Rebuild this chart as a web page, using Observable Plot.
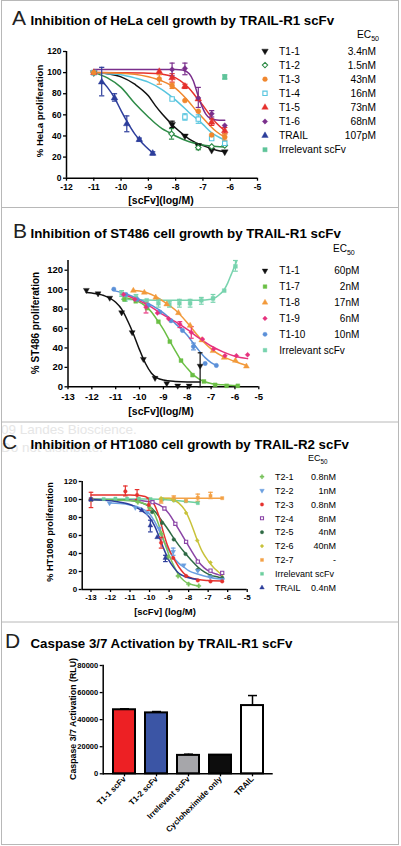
<!DOCTYPE html>
<html><head><meta charset="utf-8">
<script src="https://cdn.jsdelivr.net/npm/d3@7"></script>
<script src="https://cdn.jsdelivr.net/npm/@observablehq/plot@0.6"></script>
<style>
html,body{margin:0;padding:0;background:#fff;}
#root{position:relative;width:401px;height:846px;overflow:hidden;background:#fff;}
#root svg{position:absolute;left:0;}
</style></head><body><div id="root"></div>
<script>
// ================= DATA =================
// Panel A : HeLa, TRAIL-R1 scFv   ([x = log M, y = % proliferation])
const A_xTicks = [-12,-11,-10,-9,-8,-7,-6,-5];
const A_yTicks = [0,20,40,60,80,100,120];
const A_names = ["T1-1","T1-2","T1-3","T1-4","T1-5","T1-6","TRAIL","Irrelevant scFv"];
const A_ec50  = ["3.4nM","1.5nM","43nM","16nM","73nM","68nM","107pM",""];
const A_T1_1_pts = [[-11,100],[-8.13,51],[-7.66,40],[-7.17,31],[-6.68,26.5],[-6.2,25]];
const A_T1_1_fit = [[-11,100],[-10.5,99],[-10,96],[-9.5,89],[-9,78],[-8.75,69],[-8.5,61],[-8.25,54],[-8,47.5],[-7.75,42],[-7.5,37],[-7.25,33.5],[-7,31],[-6.75,28.5],[-6.5,26.5],[-6.2,25]];
const A_T1_1_err = [[-8.13,48,54]];
const A_T1_2_pts = [[-11,100],[-8.15,42],[-7.17,29],[-6.68,30],[-6.2,31]];
const A_T1_2_fit = [[-11,100],[-10.5,95],[-10,86],[-9.5,71],[-9,58],[-8.75,52],[-8.5,47],[-8.25,43.5],[-8,40],[-7.5,34.5],[-7,31.5],[-6.5,30],[-6.2,29.5]];
const A_T1_2_err = [[-8.15,37,47],[-7.17,27,31]];
const A_T1_3_pts = [[-11,100],[-8.6,94],[-8.13,87.5],[-7.66,73.5],[-7.17,63.5],[-6.68,41],[-6.2,39]];
const A_T1_3_fit = [[-11,100],[-10,99.5],[-9.5,98.5],[-9,96],[-8.5,92],[-8,85],[-7.75,79],[-7.5,72],[-7.25,64],[-7,57],[-6.75,50],[-6.5,44],[-6.2,39]];
const A_T1_3_err = [[-8.6,89,98],[-8.13,85,90],[-6.2,36,42]];
const A_T1_4_pts = [[-11,100],[-8.13,75],[-7.66,58],[-7.17,56],[-6.68,37.5],[-6.2,33]];
const A_T1_4_fit = [[-11,100],[-10.5,99],[-10,98],[-9.5,95],[-9,91],[-8.5,84],[-8,74],[-7.66,66],[-7.5,62],[-7.17,55],[-7,51],[-6.68,43],[-6.5,40],[-6.2,36]];
const A_T1_4_err = [[-7.66,55,61],[-7.17,52,60]];
const A_T1_5_pts = [[-11,100],[-8.6,101],[-8.13,95],[-7.66,87],[-7.17,75],[-6.68,53],[-6.2,45]];
const A_T1_5_fit = [[-11,100],[-9,99.5],[-8.5,98.5],[-8,95],[-7.66,89],[-7.5,85],[-7.25,77],[-7,69],[-6.75,60],[-6.5,52],[-6.2,45]];
const A_T1_5_err = [[-8.13,91,99],[-7.66,85,89],[-6.68,50,56],[-6.2,42,48]];
const A_T1_6_pts = [[-8.13,103],[-7.66,104],[-7.17,76],[-6.68,61],[-6.2,50]];
const A_T1_6_fit = [[-11,103],[-8,103],[-7.75,102.5],[-7.5,99],[-7.35,92],[-7.2,80],[-7.05,69],[-6.9,61],[-6.75,57],[-6.6,55.5],[-6.4,55],[-6.2,55]];
const A_T1_6_err = [[-8.13,97,109],[-7.66,98,109],[-7.17,67,86],[-6.68,58,64]];
const A_TRAIL_pts = [[-10.71,91],[-10.24,76],[-9.79,51.5],[-9.33,36.5],[-8.84,23.5]];
const A_TRAIL_fit = [[-10.71,92],[-10.5,86],[-10.24,76],[-10,64],[-9.79,54],[-9.5,42],[-9.33,36.5],[-9.1,30],[-8.84,24]];
const A_TRAIL_err = [[-10.71,78,105],[-10.24,73,80],[-9.79,44,59],[-9.33,35,38],[-8.84,22,25]];
const A_Irr_pts = [[-6.2,95.6]];
const A_Irr_err = [[-6.2,94,98]];

// Panel B : ST486, TRAIL-R1 scFv
const B_xTicks = [-13,-12,-11,-10,-9,-8,-7,-6,-5];
const B_yTicks = [0,20,40,60,80,100,120];
const B_names = ["T1-1","T1-7","T1-8","T1-9","T1-10","Irrelevant scFv"];
const B_ec50  = ["60pM","2nM","17nM","6nM","10nM",""];
const B_T1_1_pts = [[-12.23,99.5],[-11.74,96],[-11.25,91.5],[-10.75,76.5],[-10.31,56],[-9.84,28.5],[-9.35,9],[-8.86,3.5],[-8.4,1],[-7.92,1],[-7.46,21.5]];
const B_T1_1_fit = [[-12.23,97],[-12,96.5],[-11.5,94],[-11,87],[-10.75,80],[-10.5,68],[-10.3,57],[-10,38],[-9.75,24],[-9.5,14],[-9.25,9],[-9,7],[-8.5,5.5],[-8,5],[-7.46,5]];
const B_T1_1_err = [[-7.46,0,35]];
const B_T1_7_pts = [[-10.64,90],[-10.16,88],[-9.69,81],[-9.21,67],[-8.73,46.5],[-8.26,27],[-7.78,12],[-7.3,5.5],[-6.83,2],[-6.35,1],[-5.88,1]];
const B_T1_7_fit = [[-10.64,92],[-10.16,89],[-9.69,82],[-9.5,77],[-9.21,67],[-9,59],[-8.73,47],[-8.5,37],[-8.26,27],[-8,19],[-7.78,13],[-7.5,8],[-7.3,5.5],[-7,3.5],[-6.5,2],[-5.88,1]];
const B_T1_8_pts = [[-10.26,99],[-9.8,97],[-9.32,92],[-8.86,85],[-8.37,76],[-7.88,63],[-7.39,48],[-6.92,37],[-6.45,30],[-5.98,27],[-5.52,21]];
const B_T1_8_fit = [[-10.26,99],[-10,98.5],[-9.5,95],[-9,88],[-8.5,79],[-8,66],[-7.5,51],[-7,39],[-6.5,31],[-6,26],[-5.52,22]];
const B_T1_9_pts = [[-10.67,95],[-10.2,90],[-9.73,82],[-9.25,76],[-8.78,70],[-8.31,64.5],[-7.83,56],[-7.36,49],[-6.89,39],[-6.42,32],[-5.94,32],[-5.47,33]];
const B_T1_9_fit = [[-10.67,95],[-10,88.5],[-9.5,82],[-9,74],[-8.5,67],[-8,59],[-7.5,50],[-7,42],[-6.5,36],[-6,31.5],[-5.47,29]];
const B_T1_9_err = [[-9.73,76,87],[-8.31,61,67],[-7.83,50,62]];
const B_T1_10_pts = [[-11.08,100.5],[-10.57,95],[-10.1,90],[-9.63,84],[-9.15,77],[-8.68,68],[-8.2,58],[-7.74,41.5],[-7.25,24],[-6.78,22]];
const B_T1_10_fit = [[-11.08,99],[-10.5,95],[-10,90],[-9.5,84],[-9,76],[-8.5,65],[-8,53],[-7.75,45],[-7.5,37],[-7.25,30],[-7,25],[-6.78,22]];
const B_T1_10_err = [[-7.74,38,45]];
const B_Irr_pts = [[-10.75,96],[-10.6,91],[-10.15,92],[-9.7,89],[-9.21,86],[-8.75,85],[-8.33,86],[-7.88,86],[-7.41,89],[-6.92,91],[-6.45,99],[-5.98,124]];
const B_Irr_fit = [[-10.75,90],[-9,89],[-7.5,89],[-7,90],[-6.8,92],[-6.6,96],[-6.45,100],[-6.3,107],[-6.15,116],[-6,125],[-5.93,129]];
const B_Irr_err = [[-10.75,93,99],[-10.6,88,94],[-10.15,89,95],[-9.21,82,90],[-8.75,82,88],[-8.33,82,90],[-7.88,82,90],[-7.41,85,92],[-6.92,87,95],[-5.98,119,130]];

// Panel C : HT1080, TRAIL-R2 scFv
const C_xTicks = [-13,-12,-11,-10,-9,-8,-7,-6,-5];
const C_yTicks = [0,20,40,60,80,100,120];
const C_names = ["T2-1","T2-2","T2-3","T2-4","T2-5","T2-6","T2-7","Irrelevant scFv","TRAIL"];
const C_ec50  = ["0.8nM","1nM","0.8nM","8nM","4nM","40nM","-","","0.4nM"];
const C_T2_1_pts = [[-13,100],[-10.6,97],[-10.0,91],[-9.4,62],[-9.05,36],[-8.54,15],[-8.0,6],[-7.48,4]];
const C_T2_1_fit = [[-13,100],[-11,99],[-10.5,97],[-10,92],[-9.75,84],[-9.5,70],[-9.25,53],[-9,38],[-8.75,26],[-8.5,16],[-8.25,10],[-8,6.5],[-7.75,5],[-7.48,4]];
const C_T2_2_pts = [[-12.05,96],[-10.73,91],[-10.12,85],[-9.5,68],[-8.79,42],[-8.25,27],[-7.53,21],[-6.9,14],[-6.28,11]];
const C_T2_2_fit = [[-12.05,96],[-11.5,95.5],[-11,94],[-10.5,91],[-10,84],[-9.75,76],[-9.5,65],[-9.25,53],[-9,43],[-8.75,35],[-8.5,29],[-8.25,25],[-8,21],[-7.5,17],[-7,14],[-6.5,12],[-6.2,11.5]];
const C_T2_2_err = [[-8.79,38,46]];
const C_T2_3_pts = [[-13,100],[-11.24,109],[-10.64,105],[-10.04,94],[-9.41,52],[-8.79,35],[-8.13,15],[-7.53,10],[-6.88,9],[-6.28,9]];
const C_T2_3_fit = [[-13,105],[-11,105],[-10.5,104.5],[-10,101],[-9.75,94],[-9.5,80],[-9.3,64],[-9.1,50],[-8.9,40],[-8.7,32],[-8.5,25],[-8.25,18],[-8,14],[-7.5,11],[-7,10],[-6.28,9.5]];
const C_T2_3_err = [[-13,91,108],[-11.24,104,115],[-10.64,100,111],[-10.04,88,101],[-9.41,46,58]];
const C_T2_4_pts = [[-13,100],[-9.85,97],[-9.24,90],[-8.68,73],[-8.13,53],[-7.53,31],[-6.88,21],[-6.28,18.5]];
const C_T2_4_fit = [[-13,100],[-11,99.5],[-10,97.5],[-9.5,94],[-9.24,90],[-9,84],[-8.68,73],[-8.4,63],[-8.13,53],[-7.8,41],[-7.53,32],[-7.2,24],[-6.88,19.5],[-6.5,16.5],[-6.28,15]];
const C_T2_5_pts = [[-13,100],[-9.87,86],[-9.36,74],[-8.76,55.5],[-8.16,39.5],[-7.53,22],[-6.88,15],[-6.28,13]];
const C_T2_5_fit = [[-13,100],[-11,99],[-10.5,97],[-10,92],[-9.7,86],[-9.36,76],[-9,65],[-8.76,57],[-8.5,49],[-8.16,40],[-7.8,31],[-7.53,25],[-7.2,19.5],[-6.88,16],[-6.5,14],[-6.28,13]];
const C_T2_6_pts = [[-9.41,101.5],[-8.76,99],[-8.13,85],[-7.56,54.5],[-6.88,30],[-6.28,17]];
const C_T2_6_fit = [[-9.41,101.5],[-9,101],[-8.76,99.5],[-8.5,96],[-8.13,86],[-7.85,72],[-7.56,55],[-7.3,42],[-7,32],[-6.7,24],[-6.5,20],[-6.28,16]];
const C_T2_7_pts = [[-9.41,98.5],[-8.76,101.5],[-8.13,98.5],[-7.53,102],[-6.88,104],[-6.28,101.5]];
const C_T2_7_fit = [[-9.41,101.5],[-6.28,101.5]];
const C_T2_7_err = [[-9.41,96,101],[-8.76,99,104],[-7.53,98,106],[-6.88,101,108]];
const C_Irr_pts = [[-13,100],[-12.35,100.5],[-11.75,101],[-11.15,101],[-10.55,101],[-9.95,100.5],[-9.35,100],[-8.75,99],[-8.15,98],[-7.53,96]];
const C_Irr_fit = [[-13,100.5],[-10,100.5],[-9,99.5],[-8,97.5],[-7.53,96.5]];
const C_TRAIL_pts = [[-13,100],[-10.4,88],[-9.96,71],[-9.61,58],[-9.19,35]];
const C_TRAIL_fit = [[-13,100],[-11.5,97],[-11,94.5],[-10.5,89],[-10,80],[-9.75,71],[-9.5,58],[-9.25,44],[-9,32],[-8.75,24],[-8.5,18],[-8.25,15],[-8,13],[-7.5,11]];
const C_TRAIL_err = [[-9.96,64,77],[-9.19,31,38]];

// Panel D : Caspase 3/7 activation
const D_labels = ["T1-1 scFv","T1-2 scFv","Irrelevant scFv","Cycloheximide only","TRAIL"];
const D_values = [47300,45000,13600,13800,50400];
const D_errHi  = [48000,46000,14500,13800,57800];
const D_yTicks = [0,20000,40000,60000,80000];

// ================= STYLE / SYMBOLS =================
const FONT = '"Liberation Sans", Arial, Helvetica, sans-serif';
const S3 = Math.sqrt(3);
const triDown = {draw(ctx, size){ const y = -Math.sqrt(size/(S3*3)); ctx.moveTo(0,-y*2); ctx.lineTo(-S3*y,y); ctx.lineTo(S3*y,y); ctx.closePath(); }};
const hline = {draw(ctx, size){ const w = Math.sqrt(size/Math.PI); ctx.moveTo(-w,0); ctx.lineTo(w,0); }};

const A_series = [
  {pts:A_T1_1_pts, fit:A_T1_1_fit, err:A_T1_1_err, color:"#111111", symbol:triDown},
  {pts:A_T1_2_pts, fit:A_T1_2_fit, err:A_T1_2_err, color:"#2e8b47", symbol:d3.symbolDiamond2, open:true},
  {pts:A_T1_4_pts, fit:A_T1_4_fit, err:A_T1_4_err, color:"#57c5df", symbol:d3.symbolSquare, open:true},
  {pts:A_T1_5_pts, fit:A_T1_5_fit, err:A_T1_5_err, color:"#e5312d", symbol:d3.symbolTriangle},
  {pts:A_T1_6_pts, fit:A_T1_6_fit, err:A_T1_6_err, color:"#7a2f8c", symbol:d3.symbolDiamond2},
  {pts:A_TRAIL_pts, fit:A_TRAIL_fit, err:A_TRAIL_err, color:"#2c3d9b", symbol:d3.symbolTriangle},
  {pts:A_Irr_pts, fit:[], err:A_Irr_err, color:"#5fc49a", symbol:d3.symbolSquare},
  {pts:A_T1_3_pts, fit:A_T1_3_fit, err:A_T1_3_err, color:"#f0872e", symbol:d3.symbolCircle}
];
const A_legend = [A_series[0],A_series[1],A_series[7],A_series[2],A_series[3],A_series[4],A_series[5],A_series[6]];

const B_series = [
  {pts:B_Irr_pts, fit:B_Irr_fit, err:B_Irr_err, color:"#78d3ae", symbol:d3.symbolSquare},
  {pts:B_T1_1_pts, fit:B_T1_1_fit, err:B_T1_1_err, color:"#111111", symbol:triDown},
  {pts:B_T1_7_pts, fit:B_T1_7_fit, err:[], color:"#6bbf45", symbol:d3.symbolSquare},
  {pts:B_T1_8_pts, fit:B_T1_8_fit, err:[], color:"#f29a3b", symbol:d3.symbolTriangle},
  {pts:B_T1_10_pts, fit:B_T1_10_fit, err:B_T1_10_err, color:"#5b90d8", symbol:d3.symbolCircle},
  {pts:B_T1_9_pts, fit:B_T1_9_fit, err:B_T1_9_err, color:"#e6327e", symbol:d3.symbolDiamond2}
];
const B_legend = [B_series[1],B_series[2],B_series[3],B_series[5],B_series[4],B_series[0]];

const C_series = [
  {pts:C_Irr_pts, fit:C_Irr_fit, err:[], color:"#6dcf9e", symbol:d3.symbolSquare},
  {pts:C_T2_7_pts, fit:C_T2_7_fit, err:C_T2_7_err, color:"#f4a146", symbol:d3.symbolSquare},
  {pts:C_T2_6_pts, fit:C_T2_6_fit, err:[], color:"#c8c23a", symbol:d3.symbolDiamond2},
  {pts:C_T2_4_pts, fit:C_T2_4_fit, err:[], color:"#8a44a6", symbol:d3.symbolSquare, open:true},
  {pts:C_T2_5_pts, fit:C_T2_5_fit, err:[], color:"#2e6a44", symbol:d3.symbolCircle},
  {pts:C_T2_2_pts, fit:C_T2_2_fit, err:C_T2_2_err, color:"#6a9fe0", symbol:triDown},
  {pts:C_T2_1_pts, fit:C_T2_1_fit, err:[], color:"#78c25c", symbol:d3.symbolCross},
  {pts:C_T2_3_pts, fit:C_T2_3_fit, err:C_T2_3_err, color:"#e5312d", symbol:d3.symbolCircle},
  {pts:C_TRAIL_pts, fit:C_TRAIL_fit, err:C_TRAIL_err, color:"#2c3d9b", symbol:d3.symbolTriangle}
];
const C_legend = [C_series[6],C_series[5],C_series[7],C_series[3],C_series[4],C_series[2],C_series[1],C_series[0],C_series[8]];

const D_colors = ["#ed2024","#3b55a5","#a6a6aa","#0d0d0d","#ffffff"];

// ================= DRAW =================
const root = document.getElementById("root");
const fx = d => d[0], fy = d => d[1];

function curvePanel(p) {
  const marks = [
    Plot.axisX({ticks:p.xTicks, tickSize:3, tickPadding:p.xPad, tickFormat:d=>String(d), label:null, fontSize:p.tick, fontWeight:"bold", strokeWidth:1.3}),
    Plot.axisY({ticks:p.yTicks, tickSize:3, tickPadding:2, tickFormat:d=>String(d), label:null, fontSize:p.tick, fontWeight:"bold", strokeWidth:1.3}),
    Plot.ruleY([0], {strokeWidth:1.5}),
    Plot.ruleX([p.xDomain[0]], {strokeWidth:1.5})
  ];
  for (const s of p.series) if (s.fit.length) marks.push(Plot.line(s.fit, {x:fx, y:fy, stroke:s.color, strokeWidth:1.5, curve:"monotone-x"}));
  for (const s of p.series) if (s.err.length) {
    marks.push(Plot.ruleX(s.err, {x:fx, y1:d=>d[1], y2:d=>d[2], stroke:s.color, strokeWidth:1.2}));
    marks.push(Plot.dot(s.err, {x:fx, y:d=>d[1], symbol:hline, r:p.cap, stroke:s.color, fill:"none", strokeWidth:1.2}));
    marks.push(Plot.dot(s.err, {x:fx, y:d=>d[2], symbol:hline, r:p.cap, stroke:s.color, fill:"none", strokeWidth:1.2}));
  }
  for (const s of p.series) marks.push(Plot.dot(s.pts, {x:fx, y:fy, symbol:s.symbol, r:p.r, fill:s.open?"#fff":s.color, stroke:s.color, strokeWidth:s.open?1.1:0.4}));
  const svg = Plot.plot({
    width:401, height:p.height,
    marginLeft:p.m[3], marginRight:p.m[1], marginTop:p.m[0], marginBottom:p.m[2],
    x:{domain:p.xDomain}, y:{domain:p.yDomain},
    style:{fontFamily:FONT, fontWeight:"bold", background:"transparent", overflow:"visible"},
    marks
  });
  svg.style.top = p.top + "px";
  root.appendChild(svg);
}

curvePanel({top:0, height:207, m:[51,144,29.3,66], xDomain:[-12,-5], yDomain:[0,120], xTicks:A_xTicks, yTicks:A_yTicks, series:A_series, r:2.5, cap:2.6, tick:8.5, xPad:3});
curvePanel({top:207, height:215, m:[53,142.7,35.7,67.5], xDomain:[-13,-5], yDomain:[0,130], xTicks:B_xTicks, yTicks:B_yTicks, series:B_series, r:2.2, cap:2.4, tick:9.5, xPad:3});
curvePanel({top:422, height:200, m:[59,154.3,33,81.7], xDomain:[-13.45,-5], yDomain:[0,120], xTicks:C_xTicks, yTicks:C_yTicks, series:C_series, r:1.8, cap:2.3, tick:8, xPad:2});

// Panel D
const D_data = D_labels.map((label,i)=>({label, value:D_values[i], hi:D_errHi[i], color:D_colors[i]}));
const D_err = D_data.filter(d=>d.hi>d.value);
const dsvg = Plot.plot({
  width:401, height:223, marginTop:43, marginBottom:71.7, marginLeft:102.7, marginRight:128.3,
  x:{domain:D_labels, paddingInner:0.32, paddingOuter:0.28},
  y:{domain:[0,80000]},
  color:{type:"identity"},
  style:{fontFamily:FONT, fontWeight:"bold", background:"transparent", overflow:"visible"},
  marks:[
    Plot.barY(D_data, {x:"label", y:"value", fill:"color", stroke:"#000", strokeWidth:2}),
    Plot.ruleX(D_err, {x:"label", y1:"value", y2:"hi", strokeWidth:1.5}),
    Plot.dot(D_err, {x:"label", y:"hi", symbol:hline, r:4.5, stroke:"#000", fill:"none", strokeWidth:1.5}),
    Plot.ruleY([0], {strokeWidth:1.5}),
    Plot.frame({anchor:"left", strokeWidth:1.5}),
    Plot.axisY({ticks:D_yTicks, tickSize:3, tickPadding:2, tickFormat:d3.format("d"), label:null, fontSize:7.5, fontWeight:"bold", strokeWidth:1.3}),
    Plot.axisX({tickRotate:-45, tickSize:3, tickPadding:1, label:null, fontSize:8, fontWeight:"bold", strokeWidth:1.3})
  ]
});
dsvg.style.top = "622px";
root.appendChild(dsvg);

// ================= OVERLAY: titles, labels, legends, borders =================
const ov = d3.select(root).append("svg").attr("width",401).attr("height",846)
  .style("top","0px").style("left","0px").attr("font-family",FONT);
function T(x,y,str,o={}){
  const t = ov.append("text").attr("x",x).attr("y",y).attr("font-size",o.size||10)
    .attr("font-weight",o.weight||"normal").attr("text-anchor",o.anchor||"start")
    .attr("fill",o.fill||"#000").text(str);
  if (o.rotate) t.attr("transform",`rotate(${o.rotate},${x},${y})`);
  return t;
}
// faint copyright watermark (visible part only, as in the reference)
T(1,434,"09 Landes Bioscience.",{size:13.5,fill:"#e6e6e6"});
T(1,452,"Do not distribute.",{size:13.5,fill:"#e6e6e6"});

// borders
ov.append("rect").attr("x",1.5).attr("y",0.5).attr("width",397).attr("height",844).attr("fill","none").attr("stroke","#b8b8b8");
[207.5,422,622].forEach(y=>ov.append("line").attr("x1",1.5).attr("x2",398.5).attr("y1",y).attr("y2",y).attr("stroke","#b8b8b8"));

// titles
const titles = [
  ["A",12,25,"Inhibition of HeLa cell growth by TRAIL-R1 scFv"],
  ["B",13,238.3,"Inhibition of ST486 cell growth by TRAIL-R1 scFv"],
  ["C",2,448.5,"Inhibition of HT1080 cell growth by TRAIL-R2 scFv"],
  ["D",5,648,"Caspase 3/7 Activation by TRAIL-R1 scFv"]
];
titles.forEach(([L,x,y,t])=>{ T(x,y,L,{size:21,weight:300,fill:"#222"}); T(30.5,y,t,{size:13.3,weight:"bold"}); });

// axis labels
T(42.5,111,"% HeLa proliferation",{size:9.5,weight:"bold",anchor:"middle",rotate:-90});
T(161,203.5,"[scFv](log/M)",{size:10.5,weight:"bold",anchor:"middle"});
T(39,323,"% ST486 proliferation",{size:10,weight:"bold",anchor:"middle",rotate:-90});
T(161,415,"[scFv](log/M)",{size:10.5,weight:"bold",anchor:"middle"});
T(53,532,"% HT1080 proliferation",{size:9.2,weight:"bold",anchor:"middle",rotate:-90});
T(165,615,"[scFv] (log/M)",{size:9.5,weight:"bold",anchor:"middle"});
T(76,719,"Caspase 3/7 Activation (RLU)",{size:8.8,weight:"bold",anchor:"middle",rotate:-90});

// legends
function legend(L){
  const e = T(L.ecX,L.ecY,"EC",{size:L.font});
  e.append("tspan").attr("font-size",L.font*0.7).attr("dy",L.font*0.3).text("50");
  L.series.forEach((s,i)=>{
    const y = L.y0 + i*L.dy;
    ov.append("path").attr("d", d3.symbol(s.symbol, Math.PI*L.r*L.r)())
      .attr("transform",`translate(${L.sx},${y})`)
      .attr("fill", s.open?"#fff":s.color).attr("stroke", s.color).attr("stroke-width", s.open?1.1:0.4);
    T(L.lx, y+L.font*0.36, L.names[i], {size:L.font});
    if (L.ec[i]) T(L.vx, y+L.font*0.36, L.ec[i], {size:L.font, anchor:"end"});
  });
}
legend({series:A_legend, names:A_names, ec:A_ec50, sx:265, lx:279, vx:376, y0:51, dy:14.1, font:10.2, r:2.4, ecX:357, ecY:37.5});
legend({series:B_legend, names:B_names, ec:B_ec50, sx:265, lx:279.3, vx:359.3, y0:270.7, dy:15.9, font:10, r:2.1, ecX:333, ecY:252});
legend({series:C_legend, names:C_names, ec:C_ec50, sx:262, lx:275, vx:336, y0:476.7, dy:13.87, font:9, r:1.7, ecX:308, ecY:461});
</script></body></html>
